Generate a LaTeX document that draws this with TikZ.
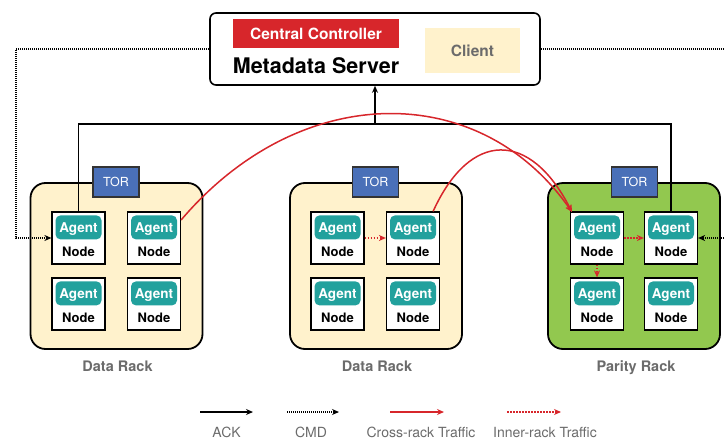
\documentclass[tikz,border=0pt]{standalone}
\usepackage{fontspec}
\setmainfont{TeX Gyre Heros}
\usetikzlibrary{arrows.meta,calc}

\definecolor{rackyellow}{HTML}{FFF2CC}
\definecolor{rackgreen}{HTML}{92C84F}
\definecolor{torblue}{HTML}{4A70B8}
\definecolor{agentteal}{HTML}{22A19D}
\definecolor{ctrlred}{HTML}{D7262B}
\definecolor{labelgray}{HTML}{6B6B6B}

\tikzset{
  rackbox/.style={draw=black, line width=1.8pt, rounded corners=15pt,
    minimum width=172pt, minimum height=166pt, inner sep=0pt},
  torbox/.style={draw=black!80, line width=1.2pt, fill=torblue, text=white,
    minimum width=46pt, minimum height=30pt, inner sep=0pt,
    font=\fontsize{12.5}{14}\selectfont},
  srvbox/.style={draw=black, line width=1.2pt, fill=white,
    minimum width=53pt, minimum height=52pt, inner sep=0pt},
  agentbox/.style={fill=agentteal, rounded corners=5pt, text=white,
    minimum width=46pt, minimum height=24pt, inner sep=0pt,
    text height=10pt, text depth=0pt,
    font=\fontsize{13.5}{15}\selectfont\bfseries},
  srvlabel/.style={inner sep=0pt, font=\fontsize{13}{15}\selectfont\bfseries},
  racklabel/.style={inner sep=0pt, anchor=base, text=labelgray,
    font=\fontsize{14.5}{16}\selectfont\bfseries},
  legendlabel/.style={inner sep=0pt, anchor=base, text=labelgray,
    font=\fontsize{14}{16}\selectfont},
  tip/.style={-{Stealth[length=7pt,width=6pt]}},
  ackline/.style={draw=black, line width=1.3pt},
  cmdline/.style={draw=black, line width=1.3pt, dash pattern=on 1pt off 1pt},
  crossline/.style={draw=ctrlred, line width=1.5pt},
  innerline/.style={draw=ctrlred, line width=1.5pt, dash pattern=on 1.5pt off 1.5pt},
}

% one storage server: white box with an agent badge and a caption
\newcommand\storagesrv[3]{%
  \node[srvbox] (#1) at (#2,#3) {};
  \node[agentbox] (#1-agent) at ($(#1.north)+(0,16)$) {Agent};
  \node[srvlabel] (#1-label) at ($(#1.south)+(0,-13)$) {Node};
}

\begin{document}
\begin{tikzpicture}[x=1pt,y=-1pt]
\useasboundingbox (0,0) rectangle (725,439);

% metadata server
\node[draw=black, line width=1.6pt, rounded corners=6pt, fill=white,
  minimum width=330pt, minimum height=72pt, inner sep=0pt] (meta) at (375,49) {};
\node[fill=ctrlred, text=white, minimum width=166pt, minimum height=29pt, inner sep=0pt,
  font=\fontsize{15.5}{17}\selectfont\bfseries] (ctrl) at (316,33.5) {Central Controller};
\node[inner sep=0pt, font=\fontsize{21.5}{24}\selectfont\bfseries] (metatext) at (316,66) {Metadata Server};
\node[fill=rackyellow, text=labelgray, minimum width=95pt, minimum height=45pt, inner sep=0pt,
  font=\fontsize{15.5}{17}\selectfont\bfseries] (client) at (472.5,50.5) {Client};

% racks
\node[rackbox, fill=rackyellow] (rack1) at (116.5,266) {};
\node[rackbox, fill=rackyellow] (rack2) at (376,266) {};
\node[rackbox, fill=rackgreen] (rack3) at (634,266) {};
\node[torbox] (tor1) at (116,182) {TOR};
\node[torbox] (tor2) at (375.5,182) {TOR};
\node[torbox] (tor3) at (634.5,182) {TOR};
\node[racklabel] (lab1) at (117.5,371) {Data Rack};
\node[racklabel] (lab2) at (377,371) {Data Rack};
\node[racklabel] (lab3) at (636,371) {Parity Rack};

% servers
\storagesrv{a11}{78.5}{238}
\storagesrv{a12}{154}{238}
\storagesrv{a21}{78.5}{304}
\storagesrv{a22}{154}{304}
\storagesrv{b11}{337.5}{238}
\storagesrv{b12}{413}{238}
\storagesrv{b21}{337.5}{304}
\storagesrv{b22}{413}{304}
\storagesrv{p11}{597}{238}
\storagesrv{p12}{671}{238}
\storagesrv{p21}{597}{304}
\storagesrv{p22}{671}{304}

% acknowledgement bus
\coordinate (bus) at (376,124);
\draw[ackline] (a11.north) -- (a11.north |- bus) -- (p12.north |- bus) -- (p12.north);
\draw[ackline, tip] (meta.south |- bus) -- (meta.south);

% commands
\coordinate (cmdL) at (16,49);
\coordinate (cmdR) at (726,49);
\coordinate (cmdR2) at (726,238);
\draw[cmdline, tip] (meta.west) -- (cmdL) |- (a11.west);
\draw[cmdline] (meta.east) -- (cmdR);
\draw[cmdline, tip] (cmdR2) -- (p12.east);

% cross-rack traffic
\coordinate (pin) at (572,212);
\draw[crossline, tip] ($(a12.east)+(0,-18)$) .. controls (300,80) and (480,80) .. (pin);
\draw[crossline, tip] ($(b12.north east)+(-7,0)$) .. controls (470,130) and (530,130) .. (pin);

% inner-rack traffic
\draw[innerline, tip] (b11.east) -- (b12.west);
\draw[innerline, tip] (p11.east) -- (p12.west);
\draw[innerline, tip] (p11.south) -- (p21.north);

% legend
\coordinate (l1a) at (200,412); \coordinate (l1b) at (253,412);
\coordinate (l2a) at (287,412); \coordinate (l2b) at (339,412);
\coordinate (l3a) at (390,412); \coordinate (l3b) at (444,412);
\coordinate (l4a) at (507,412); \coordinate (l4b) at (561,412);
\draw[ackline, tip] (l1a) -- (l1b);
\draw[cmdline, tip] (l2a) -- (l2b);
\draw[crossline, tip] (l3a) -- (l3b);
\draw[innerline, tip] (l4a) -- (l4b);
\node[legendlabel] (k1) at (226.5,437) {ACK};
\node[legendlabel] (k2) at (311,437) {CMD};
\node[legendlabel] (k3) at (421,437) {Cross-rack Traffic};
\node[legendlabel] (k4) at (545,437) {Inner-rack Traffic};
\end{tikzpicture}
\end{document}
